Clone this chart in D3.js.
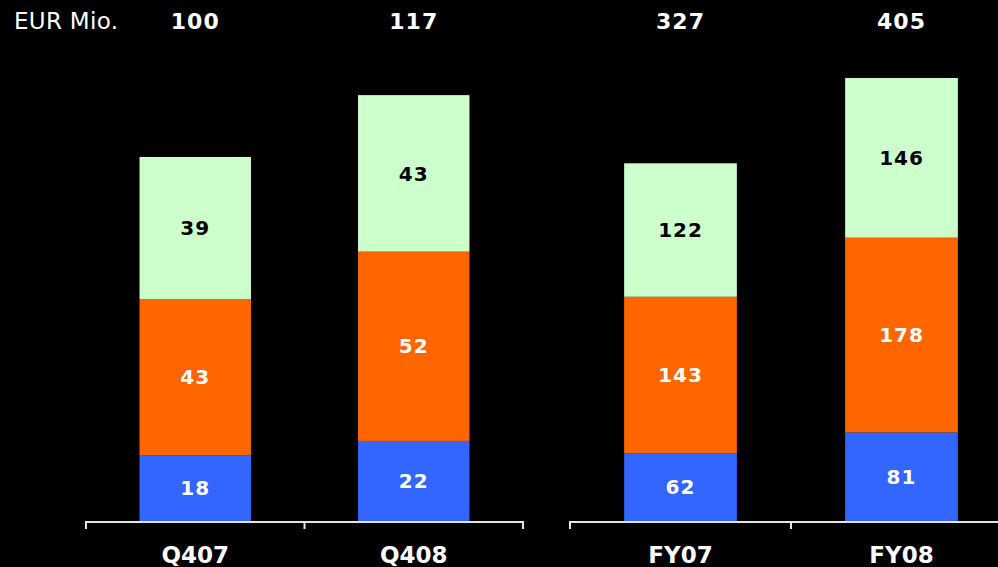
<!DOCTYPE html>
<html>
<head>
<meta charset="utf-8">
<script src="https://cdn.jsdelivr.net/npm/d3@7/dist/d3.min.js"></script>
<style>
  html, body { margin: 0; padding: 0; background: #000; }
  svg { display: block; }
  text { font-family: "DejaVu Sans", Verdana, sans-serif; }
</style>
</head>
<body>
<div id="chart"></div>
<script>
// data
const quarterCats = ["Q407", "Q408"];
const yearCats = ["FY07", "FY08"];
const segmentNames = ["blue", "orange", "green"];
const quarterBlue = [18, 22];
const quarterOrange = [43, 52];
const quarterGreen = [39, 43];
const quarterTotals = [100, 117];
const yearBlue = [62, 81];
const yearOrange = [143, 178];
const yearGreen = [122, 146];
const yearTotals = [327, 405];
const unitLabel = "EUR Mio.";

const colors = { blue: "#3366ff", orange: "#ff6600", green: "#ccffcc" };
const labelColors = { blue: "#ffffff", orange: "#ffffff", green: "#000000" };

const width = 998, height = 567, baseY = 521;

const svg = d3.select("#chart").append("svg")
    .attr("width", width)
    .attr("height", height);

svg.append("text")
    .attr("x", 14)
    .attr("y", 29)
    .attr("fill", "#fff")
    .attr("font-size", "23px")
    .attr("letter-spacing", "0.3px")
    .text(unitLabel);

function drawGroup(cats, blue, orange, green, totals, xRange, yMax, yTop) {
    const x = d3.scaleBand().domain(cats).range(xRange)
        .paddingInner(0.49).paddingOuter(0.245);
    const y = d3.scaleLinear().domain([0, yMax]).range([baseY, yTop]);

    const rows = cats.map((c, i) => ({ cat: c, blue: blue[i], orange: orange[i], green: green[i], total: totals[i] }));
    const stacked = d3.stack().keys(segmentNames)(rows);

    const g = svg.append("g");

    stacked.forEach(layer => {
        const key = layer.key;
        g.selectAll(null)
            .data(layer)
            .enter()
            .append("rect")
            .attr("x", d => x(d.data.cat))
            .attr("width", x.bandwidth())
            .attr("y", d => y(d[1]))
            .attr("height", d => y(d[0]) - y(d[1]))
            .attr("fill", colors[key]);

        g.selectAll(null)
            .data(layer)
            .enter()
            .append("text")
            .attr("x", d => x(d.data.cat) + x.bandwidth() / 2)
            .attr("y", d => (y(d[0]) + y(d[1])) / 2)
            .attr("dy", "0.36em")
            .attr("text-anchor", "middle")
            .attr("font-size", "20px")
            .attr("font-weight", "bold")
            .attr("letter-spacing", "1px")
            .attr("fill", labelColors[key])
            .text(d => d.data[key]);
    });

    // totals on top
    g.selectAll(null)
        .data(rows)
        .enter()
        .append("text")
        .attr("x", d => x(d.cat) + x.bandwidth() / 2)
        .attr("y", 29)
        .attr("text-anchor", "middle")
        .attr("font-size", "22px")
        .attr("font-weight", "bold")
        .attr("letter-spacing", "1px")
        .attr("fill", "#fff")
        .text(d => d.total);

    // axis: base line with ticks at band edges
    const r = x.range();
    const mid = x(cats[1]) - x.step() * x.paddingInner() / 2;
    const ax = g.append("g").attr("stroke", "#e6e6e6").attr("stroke-width", 2);
    ax.append("line").attr("x1", r[0]).attr("x2", r[1]).attr("y1", baseY + 1).attr("y2", baseY + 1);
    [r[0], mid, r[1]].forEach(t => {
        ax.append("line").attr("x1", t).attr("x2", t).attr("y1", baseY).attr("y2", baseY + 8);
    });

    // category labels
    g.selectAll(null)
        .data(cats)
        .enter()
        .append("text")
        .attr("x", d => x(d) + x.bandwidth() / 2)
        .attr("y", 563)
        .attr("text-anchor", "middle")
        .attr("font-family", "'Liberation Sans', Arial, sans-serif")
        .attr("font-size", "23px")
        .attr("font-weight", "bold")
        .attr("fill", "#fff")
        .text(d => d);
}

drawGroup(quarterCats, quarterBlue, quarterOrange, quarterGreen, quarterTotals, [86, 523], 100, 157);
drawGroup(yearCats, yearBlue, yearOrange, yearGreen, yearTotals, [570, 1012], 405, 78);
</script>
</body>
</html>
